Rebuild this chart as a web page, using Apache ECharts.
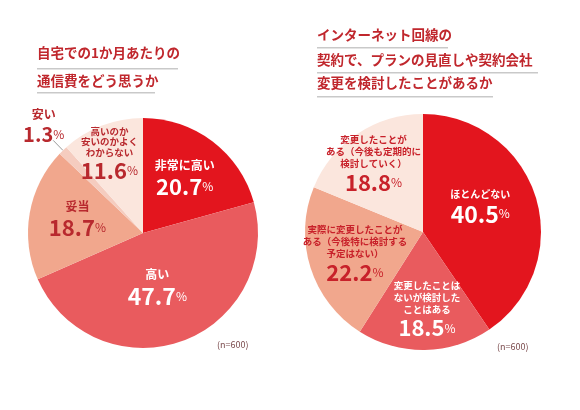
<!DOCTYPE html>
<html><head><meta charset="utf-8">
<script src="https://cdn.jsdelivr.net/npm/echarts@6/dist/echarts.min.js"></script>
<style>html,body{margin:0;padding:0;background:#fff}#c{width:580px;height:410px}</style>
</head><body><div id="c"></div>
<script>
// ---- data ----
const leftTitle = ['自宅での1か月あたりの', '通信費をどう思うか'];
const leftCategories = ['非常に高い', '高い', '妥当', '安い', '高いのか安いのかよくわからない'];
const leftLabelLines = [['非常に高い'], ['高い'], ['妥当'], ['安い'], ['高いのか', '安いのかよく', 'わからない']];
const leftValues = [20.7, 47.7, 18.7, 1.3, 11.6];

const rightTitle = ['インターネット回線の', '契約で、プランの見直しや契約会社', '変更を検討したことがあるか'];
const rightCategories = ['ほとんどない', '変更したことはないが検討したことはある', '実際に変更したことがある（今後特に検討する予定はない）', '変更したことがある（今後も定期的に検討していく）'];
const rightLabelLines = [['ほとんどない'], ['変更したことは', 'ないが検討した', 'ことはある'], ['実際に変更したことが', 'ある（今後特に検討する', '予定はない）'], ['変更したことが', 'ある（今後も定期的に', '検討していく）']];
const rightValues = [40.5, 18.5, 22.2, 18.8];

const sampleNote = '(n=600)';

// ---- styles ----
const FONT = '"Noto Sans CJK JP", "Noto Sans", sans-serif';
const leftColors = ['#E3151E', '#E95B5E', '#F1A78D', '#F5CCBF', '#FBE6DD'];
const rightColors = ['#E3151E', '#E95B5E', '#F1A78D', '#FBE6DD'];
const leftTextColors = ['#fff', '#fff', '#B8292E', '#B8292E', '#B8292E'];
const rightTextColors = ['#fff', '#fff', '#C8212A', '#C8212A'];
const leftOffsets = [[5, -6], [-6, -2], [-6, -3], [16, -14], [-12, -22]];
const rightOffsets = [[-2, -6], [3, 16], [-9, 4], [-15, -16]];
const leftNameSize = [12, 12, 12, 12, 9.5];
const rightNameSize = [10, 9.5, 9.5, 9.5];

function richFor(color, nameSize, nameLH, numSize) {
  return {
    n: { fontFamily: FONT, fontSize: nameSize, fontWeight: 'bold', color: color, lineHeight: nameLH, align: 'center' },
    v: { fontFamily: FONT, fontSize: numSize, fontWeight: 'bold', color: color, lineHeight: numSize + 4 },
    p: { fontFamily: FONT, fontSize: 12, fontWeight: 'normal', color: color, lineHeight: numSize + 4 }
  };
}
function fmt(lines, val) {
  return lines.map(l => '{n|' + l + '}').join('\n') + '\n{v|' + val + '}{p|%}';
}

const leftData = leftCategories.map((c, i) => {
  const item = {
    name: c, value: leftValues[i],
    itemStyle: { color: leftColors[i] },
    label: {
      formatter: fmt(leftLabelLines[i], leftValues[i].toFixed(1)),
      rich: richFor(leftTextColors[i], leftNameSize[i], i === 4 ? 10.5 : 16, i === 1 ? 23 : 22)
    }
  };
  if (i === 3) {
    item.label.position = 'outside';
    item.label.rich = richFor('#B8292E', 12, 16, 20);
    item.label.align = 'center';
    item.labelLine = { show: true, length: 14, length2: 0, lineStyle: { color: '#9a9a9a', width: 1 } };
  }
  return item;
});
const rightData = rightCategories.map((c, i) => ({
  name: c, value: rightValues[i],
  itemStyle: { color: rightColors[i] },
  label: {
    formatter: fmt(rightLabelLines[i], rightValues[i].toFixed(1)),
    rich: richFor(rightTextColors[i], rightNameSize[i], 12, i === 0 ? 23 : 22)
  }
}));

const chart = echarts.init(document.getElementById('c'), null, { renderer: 'canvas' });

const titleStyle = { fontFamily: FONT, fontSize: 13.5, fontWeight: 'bold', fill: '#C0272D' };
const graphics = [];
const leftTitleY = [55, 83], leftUnderY = [68, 92], leftUnderW = [141, 118];
leftTitle.forEach((t, i) => {
  graphics.push({ type: 'text', left: 37, top: leftTitleY[i] - 9, style: Object.assign({ text: t }, titleStyle) });
  graphics.push({ type: 'rect', shape: { x: 37, y: leftUnderY[i], width: leftUnderW[i], height: 1.5 }, style: { fill: '#c9c9c9' } });
});
const rightTitleY = [37, 62, 85], rightUnderY = [47, 72, 96], rightUnderW = [131, 221, 176];
rightTitle.forEach((t, i) => {
  graphics.push({ type: 'text', left: 317, top: rightTitleY[i] - 9, style: Object.assign({ text: t }, titleStyle) });
  graphics.push({ type: 'rect', shape: { x: 317, y: rightUnderY[i], width: rightUnderW[i], height: 1.5 }, style: { fill: '#c9c9c9' } });
});
graphics.push({ type: 'text', left: 217, top: 340, style: { text: sampleNote, fontFamily: FONT, fontSize: 9, fill: '#7a4a4c' } });
graphics.push({ type: 'text', left: 497, top: 342, style: { text: sampleNote, fontFamily: FONT, fontSize: 9, fill: '#7a4a4c' } });

chart.setOption({
  backgroundColor: '#fff',
  animation: false,
  graphic: graphics,
  series: [
    {
      type: 'pie', center: [143, 233], radius: [0, 115], startAngle: 90, clockwise: true,
      avoidLabelOverlap: false, emphasis: { disabled: true }, silent: true,
      itemStyle: { borderWidth: 0 },
      label: { show: true, position: 'inside', align: 'center' },
      labelLine: { show: false },
      labelLayout: function (p) {
        const o = leftOffsets[p.dataIndex];
        return { dx: o[0], dy: o[1] };
      },
      data: leftData
    },
    {
      type: 'pie', center: [423, 232], radius: [0, 118], startAngle: 90, clockwise: true,
      avoidLabelOverlap: false, emphasis: { disabled: true }, silent: true,
      itemStyle: { borderWidth: 0 },
      label: { show: true, position: 'inside', align: 'center' },
      labelLine: { show: false },
      labelLayout: function (p) {
        const o = rightOffsets[p.dataIndex];
        return { dx: o[0], dy: o[1] };
      },
      data: rightData
    }
  ]
});
</script></body></html>
